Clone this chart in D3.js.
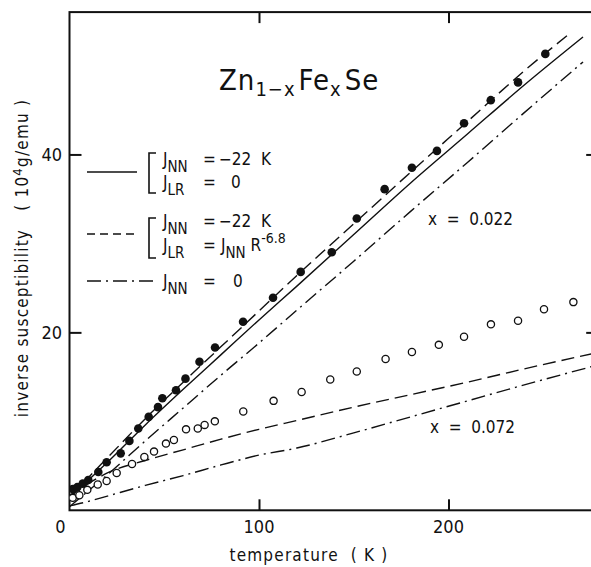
<!DOCTYPE html>
<html>
<head>
<meta charset="utf-8">
<script src="https://cdn.jsdelivr.net/npm/d3@7"></script>
<style>
  body { margin: 0; background: #fff; }
  svg { display: block; }
  text { font-family: "Liberation Sans Narrow", "DejaVu Sans Condensed", sans-serif; fill: #111; }
</style>
</head>
<body>
<script>
const width = 591;
const height = 567;

// x = 0.022, filled circles
const tempFilled = [1.7, 4.1, 7.0, 9.9, 15.2, 19.6, 27.0, 31.6, 36.3, 41.8, 46.7, 49.0, 56.2, 61.2, 68.6, 76.8, 91.6, 107.4, 122.0, 138.4, 151.6, 166.3, 180.7, 193.9, 208.2, 222.3, 236.7, 251.1];
const chiFilled = [2.4, 2.6, 3.0, 3.4, 4.3, 5.4, 6.4, 7.8, 9.2, 10.5, 11.6, 12.6, 13.5, 14.8, 16.7, 18.3, 21.2, 23.9, 26.8, 29.0, 32.8, 36.1, 38.5, 40.4, 43.5, 46.1, 48.1, 51.3];

// x = 0.072, open circles
const tempOpen = [1.7, 5.2, 9.4, 14.9, 19.6, 24.9, 33.0, 39.5, 44.6, 50.9, 55.1, 61.5, 67.7, 71.3, 76.7, 91.7, 107.7, 122.5, 137.6, 151.6, 166.8, 180.7, 194.9, 208.2, 222.4, 236.7, 250.4, 265.9];
const chiOpen = [1.4, 1.7, 2.3, 2.9, 3.3, 4.2, 5.2, 6.0, 6.6, 7.5, 7.9, 9.1, 9.2, 9.6, 10.0, 11.1, 12.3, 13.3, 14.7, 15.6, 17.0, 17.8, 18.6, 19.5, 20.9, 21.3, 22.6, 23.4];

// model curves, x = 0.022
const tempCurve022 = [0, 10, 20, 40, 60, 80, 100, 120, 150, 180, 210, 240, 271];
const solid022 = [1.5, 3.4, 5.4, 9.6, 13.6, 17.5, 21.4, 25.2, 31.0, 36.8, 42.3, 47.8, 53.2];
const tempDashed022 = [0, 10, 20, 40, 60, 80, 100, 120, 150, 180, 210, 240, 264];
const dashed022 = [1.6, 3.7, 5.9, 10.3, 14.4, 18.4, 22.4, 26.4, 32.2, 38.0, 43.7, 49.4, 53.6];
const dashdot022 = [0.4, 2.2, 4.0, 7.8, 11.5, 15.2, 18.8, 22.5, 28.0, 33.6, 39.1, 44.7, 50.4];

// model curves, x = 0.072
const tempCurve072 = [0, 10, 20, 40, 60, 80, 100, 120, 150, 180, 210, 240, 280];
const dashed072 = [1.5, 3.0, 4.2, 5.6, 6.8, 8.0, 9.1, 10.1, 11.6, 13.0, 14.4, 15.9, 17.8];
const dashdot072 = [0.5, 1.0, 1.6, 2.8, 3.9, 5.1, 6.2, 7.0, 8.7, 10.5, 12.3, 14.1, 16.4];

const xTicks = [100, 200];
const yTicks = [20, 40];

const dashStyle = "13,6";
const dashDotStyle = "14,5,2,5";

const x = d3.scaleLinear().domain([0, 279]).range([69.5, 598.2]);
const y = d3.scaleLinear().domain([0, 56]).range([510.3, 12.1]);

const svg = d3.select("body").append("svg")
  .attr("width", width)
  .attr("height", height);

svg.append("defs").append("clipPath").attr("id", "plot")
  .append("rect")
  .attr("x", x(0)).attr("y", y(56))
  .attr("width", x(279) - x(0)).attr("height", y(0) - y(56));

// frame
svg.append("rect")
  .attr("x", x(0)).attr("y", y(56))
  .attr("width", x(279) - x(0)).attr("height", y(0) - y(56))
  .attr("fill", "none")
  .attr("stroke", "#111")
  .attr("stroke-width", 2);

// ticks, all inward
const bottomAxis = d3.axisTop(x).tickValues(xTicks).tickSize(11).tickFormat("");
svg.append("g").attr("transform", `translate(0,${y(0)})`).call(bottomAxis);
const topAxis = d3.axisBottom(x).tickValues(xTicks).tickSize(11).tickFormat("");
svg.append("g").attr("transform", `translate(0,${y(56)})`).call(topAxis);
const leftAxis = d3.axisRight(y).tickValues(yTicks).tickSize(12).tickFormat("");
svg.append("g").attr("transform", `translate(${x(0)},0)`).call(leftAxis);
const rightAxis = d3.axisLeft(y).tickValues(yTicks).tickSize(12).tickFormat("");
svg.append("g").attr("transform", `translate(${x(279)},0)`).call(rightAxis);
svg.selectAll(".domain").remove();
svg.selectAll(".tick line").attr("stroke", "#111").attr("stroke-width", 2);

// tick labels
svg.append("g").selectAll("text")
  .data([0].concat(xTicks))
  .join("text")
  .attr("x", d => d === 0 ? x(0) - 9 : x(d))
  .attr("y", 533)
  .attr("text-anchor", "middle")
  .attr("font-size", 18)
  .text(d => d);

svg.append("g").selectAll("text")
  .data(yTicks)
  .join("text")
  .attr("x", 62)
  .attr("y", d => y(d) + 6.5)
  .attr("text-anchor", "end")
  .attr("font-size", 18)
  .text(d => d);

// axis titles
svg.append("text")
  .attr("x", 309)
  .attr("y", 561)
  .attr("text-anchor", "middle")
  .attr("font-size", 17)
  .attr("letter-spacing", 1.2)
  .attr("xml:space", "preserve")
  .text("temperature  ( K )");

const yTitle = svg.append("text")
  .attr("transform", "translate(28,258) rotate(-90)")
  .attr("text-anchor", "middle")
  .attr("font-size", 17)
  .attr("letter-spacing", 1.2)
  .attr("xml:space", "preserve");
yTitle.append("tspan").text("inverse susceptibility   ( 10");
yTitle.append("tspan").attr("dy", -6).attr("font-size", 13).text("4");
yTitle.append("tspan").attr("dy", 6).text("g/emu )");

// title Zn(1-x)Fe(x)Se
const title = svg.append("text")
  .attr("x", 219)
  .attr("y", 90)
  .attr("font-size", 29)
  .attr("letter-spacing", 1);
title.append("tspan").text("Zn");
title.append("tspan").attr("dy", 6).attr("font-size", 20).text("1−x");
title.append("tspan").attr("dy", -6).attr("dx", 3).text("Fe");
title.append("tspan").attr("dy", 6).attr("font-size", 20).text("x");
title.append("tspan").attr("dy", -6).attr("dx", 3).text("Se");

// curves
const plot = svg.append("g").attr("clip-path", "url(#plot)");
const line = d3.line().x(d => x(d[0])).y(d => y(d[1])).curve(d3.curveMonotoneX);

const curves = [
  { t: tempCurve022, v: solid022, dash: null },
  { t: tempDashed022, v: dashed022, dash: dashStyle },
  { t: tempCurve022, v: dashdot022, dash: dashDotStyle },
  { t: tempCurve072, v: dashed072, dash: dashStyle },
  { t: tempCurve072, v: dashdot072, dash: dashDotStyle }
];

plot.selectAll("path.curve")
  .data(curves)
  .join("path")
  .attr("class", "curve")
  .attr("d", c => line(c.t.map((t, i) => [t, c.v[i]])))
  .attr("fill", "none")
  .attr("stroke", "#111")
  .attr("stroke-width", 1.4)
  .attr("stroke-dasharray", c => c.dash);

// points
plot.selectAll("circle.filled")
  .data(tempFilled.map((t, i) => [t, chiFilled[i]]))
  .join("circle")
  .attr("class", "filled")
  .attr("cx", d => x(d[0]))
  .attr("cy", d => y(d[1]))
  .attr("r", 4.3)
  .attr("fill", "#111");

plot.selectAll("circle.open")
  .data(tempOpen.map((t, i) => [t, chiOpen[i]]))
  .join("circle")
  .attr("class", "open")
  .attr("cx", d => x(d[0]))
  .attr("cy", d => y(d[1]))
  .attr("r", 3.6)
  .attr("fill", "#fff")
  .attr("stroke", "#111")
  .attr("stroke-width", 1.3);

// labels for the two samples
svg.append("text").attr("x", 428).attr("y", 225).attr("font-size", 17)
  .attr("xml:space", "preserve").text("x  =  0.022");
svg.append("text").attr("x", 430).attr("y", 433).attr("font-size", 17)
  .attr("xml:space", "preserve").text("x  =  0.072");

// legend
const legend = svg.append("g").attr("font-size", 17);

function legendLine(yPos, x2, dash) {
  legend.append("line")
    .attr("x1", 87).attr("x2", x2)
    .attr("y1", yPos).attr("y2", yPos)
    .attr("stroke", "#111")
    .attr("stroke-width", 1.4)
    .attr("stroke-dasharray", dash);
}
function bracket(y1, y2) {
  legend.append("path")
    .attr("d", `M156,${y1} H149 V${y2} H156`)
    .attr("fill", "none")
    .attr("stroke", "#111")
    .attr("stroke-width", 1.6);
}
// J with subscript, then "=" and the value
function jLine(yPos, sub, value, valueX) {
  const t = legend.append("text").attr("x", 163).attr("y", yPos).attr("xml:space", "preserve");
  t.append("tspan").text("J");
  t.append("tspan").attr("dy", 7).attr("font-size", 15).text(sub);
  t.append("tspan").attr("x", 203).attr("dy", -7).text("=");
  t.append("tspan").attr("x", valueX).text(value);
  return t;
}

legendLine(172, 137, null);
bracket(153, 193);
jLine(165, "NN", "−22  K", 219);
jLine(188, "LR", "0", 231);

legendLine(234, 137, "8,5");
bracket(218, 258);
jLine(227, "NN", "−22  K", 219);
const lr = jLine(251, "LR", "J", 221);
lr.append("tspan").attr("dy", 7).attr("font-size", 15).text("NN");
lr.append("tspan").attr("dy", -7).text(" R");
lr.append("tspan").attr("dy", -8).attr("font-size", 14).text("-6.8");

legendLine(281, 155, "14,5,2,5");
jLine(287, "NN", "0", 233);
</script>
</body>
</html>
